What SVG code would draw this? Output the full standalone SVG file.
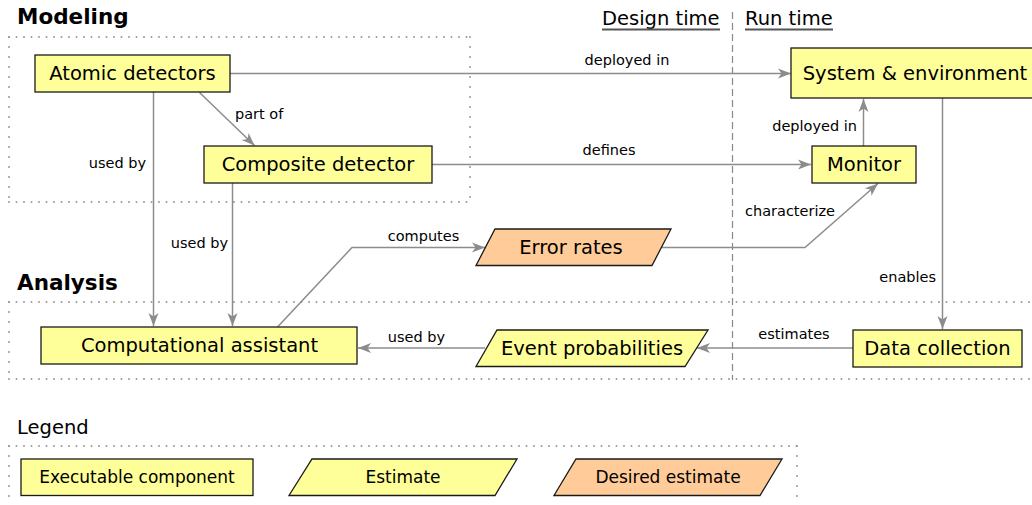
<svg xmlns="http://www.w3.org/2000/svg" width="1032" height="505" viewBox="0 0 1032 505">
  <defs>
    <style>
      .node { fill: #ffff99; stroke: #1a1a1a; stroke-width: 1.3; }
      .desired { fill: #ffcc99; stroke: #1a1a1a; stroke-width: 1.3; }
      .ntext { font-family: "DejaVu Sans", sans-serif; font-size: 19.5px; fill: #000; text-anchor: middle; }
      .ltext { font-family: "DejaVu Sans", sans-serif; font-size: 17px; fill: #000; text-anchor: middle; }
      .elabel { font-family: "DejaVu Sans", sans-serif; font-size: 14.5px; fill: #000; }
      .title { font-family: "DejaVu Sans", sans-serif; font-size: 21.5px; font-weight: bold; fill: #000; }
      .head { font-family: "DejaVu Sans", sans-serif; font-size: 19.5px; fill: #000; }
      .edge { fill: none; stroke: #8c8c8c; stroke-width: 1.5; marker-end: url(#arrow); }
      .hdots { fill: none; stroke: #999; stroke-width: 2; stroke-dasharray: 0 7.5; stroke-linecap: round; }
      .vdots { fill: none; stroke: #999; stroke-width: 2; stroke-dasharray: 0 10; stroke-linecap: round; }
      .uline { stroke: #555; stroke-width: 2; }
    </style>
    <marker id="arrow" markerUnits="userSpaceOnUse" markerWidth="14" markerHeight="12" refX="13" refY="6" orient="auto">
      <path d="M0,1 L13,6 L0,11 L3.5,6 z" fill="#8c8c8c"/>
    </marker>
  </defs>

  <!-- group frames: dotted sides, wider spacing on the vertical sides -->
  <g id="frames">
    <path class="hdots" d="M9,37 H470 M9,202 H470"/>
    <path class="vdots" d="M9,37 V202 M470,37 V202"/>
    <path class="hdots" d="M9,302 H1040 M9,379 H1040"/>
    <path class="vdots" d="M9,302 V379"/>
    <path class="hdots" d="M9,446 H797"/>
    <path class="vdots" d="M9,446 V520 M797,446 V520"/>
    <line x1="732.5" y1="12" x2="732.5" y2="380" stroke="#888" stroke-width="1.2" stroke-dasharray="7 4"/>
  </g>

  <!-- headings -->
  <g id="headings">
    <text class="title" x="17" y="24">Modeling</text>
    <text class="title" x="17" y="290">Analysis</text>
    <text class="head" x="602" y="25">Design time</text>
    <line class="uline" x1="602" y1="29.5" x2="720" y2="29.5"/>
    <text class="head" x="745" y="25">Run time</text>
    <line class="uline" x1="745" y1="29.5" x2="833" y2="29.5"/>
    <text class="head" x="17" y="434">Legend</text>
  </g>

  <!-- connectors -->
  <g id="connectors">
    <path class="edge" d="M230,73.5 H791"/>
    <text class="elabel" x="627" y="65" text-anchor="middle">deployed in</text>

    <path class="edge" d="M199.5,92.5 L254.5,145.5"/>
    <text class="elabel" x="235" y="119">part of</text>

    <path class="edge" d="M153.5,92 V326"/>
    <text class="elabel" x="146" y="168" text-anchor="end">used by</text>

    <path class="edge" d="M232.5,183 V326"/>
    <text class="elabel" x="228" y="248" text-anchor="end">used by</text>

    <path class="edge" d="M432,164.5 H811"/>
    <text class="elabel" x="609" y="155" text-anchor="middle">defines</text>

    <path class="edge" d="M863.5,146 V99"/>
    <text class="elabel" x="857" y="131" text-anchor="end">deployed in</text>

    <path class="edge" d="M277.5,327 L352,247.5 H485"/>
    <text class="elabel" x="423.5" y="241" text-anchor="middle">computes</text>

    <path class="edge" d="M662,247.5 H805 L878,183.5"/>
    <text class="elabel" x="790" y="216" text-anchor="middle">characterize</text>

    <path class="edge" d="M942.5,98 V329"/>
    <text class="elabel" x="936" y="282" text-anchor="end">enables</text>

    <path class="edge" d="M853,348 H697"/>
    <text class="elabel" x="794" y="339" text-anchor="middle">estimates</text>

    <path class="edge" d="M485,348 H358"/>
    <text class="elabel" x="416.5" y="342" text-anchor="middle">used by</text>
  </g>

  <!-- nodes -->
  <g id="atomic-detectors">
    <rect class="node" x="35" y="55" width="195" height="37"/>
    <text class="ntext" x="132.5" y="80">Atomic detectors</text>
  </g>
  <g id="composite-detector">
    <rect class="node" x="204" y="146" width="228" height="37"/>
    <text class="ntext" x="318" y="171">Composite detector</text>
  </g>
  <g id="system-environment">
    <rect class="node" x="791" y="48" width="250" height="50"/>
    <text class="ntext" x="915" y="80">System &amp; environment</text>
  </g>
  <g id="monitor">
    <rect class="node" x="812" y="146" width="104" height="37"/>
    <text class="ntext" x="864" y="171">Monitor</text>
  </g>
  <g id="error-rates">
    <polygon class="desired" points="495,229 671,229 652,265.5 476,265.5"/>
    <text class="ntext" x="571" y="254">Error rates</text>
  </g>
  <g id="computational-assistant">
    <rect class="node" x="41" y="327" width="316" height="37"/>
    <text class="ntext" x="199.5" y="352">Computational assistant</text>
  </g>
  <g id="event-probabilities">
    <polygon class="node" points="497,330 708,330 685,366.5 476,366.5"/>
    <text class="ntext" x="592" y="355">Event probabilities</text>
  </g>
  <g id="data-collection">
    <rect class="node" x="853" y="330" width="169" height="37"/>
    <text class="ntext" x="937.5" y="355">Data collection</text>
  </g>

  <!-- legend -->
  <g id="legend-executable">
    <rect class="node" x="21" y="459" width="232" height="36.5"/>
    <text class="ltext" x="137" y="483">Executable component</text>
  </g>
  <g id="legend-estimate">
    <polygon class="node" points="312,459 517,459 495,495.5 289,495.5"/>
    <text class="ltext" x="403" y="483">Estimate</text>
  </g>
  <g id="legend-desired">
    <polygon class="desired" points="576,459 782,459 760,495.5 554,495.5"/>
    <text class="ltext" x="668" y="483">Desired estimate</text>
  </g>
</svg>
